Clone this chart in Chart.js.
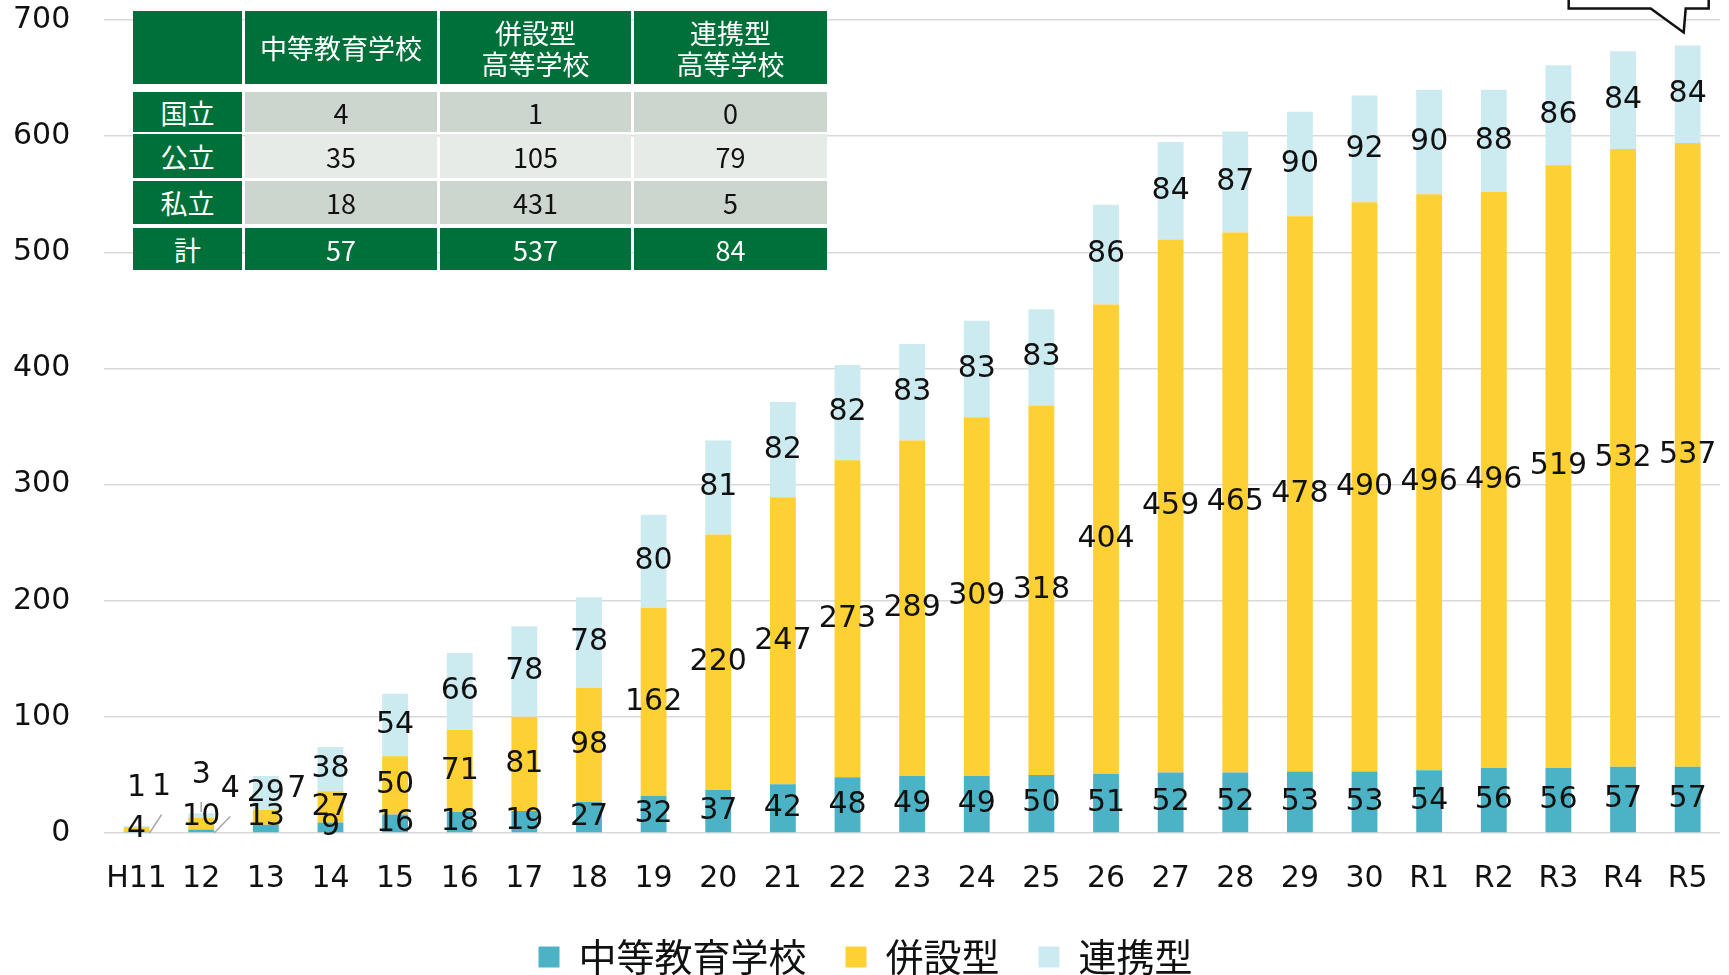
<!DOCTYPE html>
<html lang="ja">
<head>
<meta charset="utf-8">
<script src="https://cdn.jsdelivr.net/npm/chart.js@4.4.0/dist/chart.umd.min.js"></script>
<style>
  html, body { margin: 0; padding: 0; background: #fff; overflow: hidden; }
  #wrap { position: relative; width: 1729px; height: 975px; overflow: hidden; }
  #chart { position: absolute; left: 0; top: 0; }
  .cell { position: absolute; display: flex; align-items: center; justify-content: center; text-align: center;
          font-family: "Noto Sans CJK JP", sans-serif; font-size: 27px; line-height: 31px; box-sizing: border-box; white-space: pre; }
  .head { background: #00703a; color: #fff; }
  .odd { background: #ccd6cf; color: #111; }
  .even { background: #e6ebe7; color: #111; }
</style>
</head>
<body>
<div id="wrap">
  <canvas id="chart" width="1729" height="986" style="width:1729px;height:986px"></canvas>
  <div id="table"></div>
</div>
<script>
// years (平成 -> 令和)
const years = ['H11', '12', '13', '14', '15', '16', '17', '18', '19', '20', '21', '22', '23', '24', '25',
  '26', '27', '28', '29', '30', 'R1', 'R2', 'R3', 'R4', 'R5'];
const chuto = [1, 3, 7, 9, 16, 18, 19, 27, 32, 37, 42, 48, 49, 49, 50, 51, 52, 52, 53, 53, 54, 56, 56, 57, 57];
const heisetsu = [4, 10, 13, 27, 50, 71, 81, 98, 162, 220, 247, 273, 289, 309, 318, 404, 459, 465, 478, 490, 496, 496, 519, 532, 537];
const renkei = [1, 4, 29, 38, 54, 66, 78, 78, 80, 81, 82, 82, 83, 83, 83, 86, 84, 87, 90, 92, 90, 88, 86, 84, 84];
const yTicks = [0, 100, 200, 300, 400, 500, 600, 700];

// summary table (R5)
const tableCols = ['', '中等教育学校', '併設型\n高等学校', '連携型\n高等学校'];
const tableRows = ['国立', '公立', '私立', '計'];
const tableValues = [[4, 1, 0], [35, 105, 79], [18, 431, 5], [57, 537, 84]];

// label nudges for the tiny early bars: 'dataset-index' -> [dx, dy]
const labelShift = { '0-0': [0, -44], '2-0': [25, -39], '0-1': [0, -56], '1-1': [0, -7], '2-1': [29, -26], '0-2': [31, -39] };

const valueLabels = {
  id: 'valueLabels',
  afterDatasetsDraw(chart) {
    const ctx = chart.ctx;
    const yZero = chart.scales.y.getPixelForValue(0);
    ctx.save();
    ctx.font = '30px "DejaVu Sans"';
    ctx.textAlign = 'center';
    ctx.textBaseline = 'middle';
    chart.data.datasets.forEach((ds, di) => {
      chart.getDatasetMeta(di).data.forEach((bar, i) => {
        const key = di + '-' + i;
        const s = labelShift[key] || [0, 0];
        const lx = bar.x + s[0];
        const ly = (bar.y + bar.base) / 2 + s[1];
        // leader lines
        ctx.strokeStyle = '#a6a6a6';
        ctx.lineWidth = 1.5;
        if (key === '2-0' || key === '2-1') {
          ctx.beginPath();
          ctx.moveTo(bar.x + bar.width / 2, yZero);
          ctx.lineTo(lx, ly + 27);
          ctx.stroke();
        } else if (key === '0-1') {
          ctx.beginPath();
          ctx.moveTo(bar.x, ly + 27);
          ctx.lineTo(bar.x, ly + 37);
          ctx.stroke();
        }
        ctx.fillStyle = '#111';
        ctx.fillText(ds.data[i], lx, ly);
      });
    });
    ctx.restore();
  }
};

// speech bubble over the last bar (its text is cut off above the frame)
const callout = {
  id: 'callout',
  afterDraw(chart) {
    const meta = chart.getDatasetMeta(2);
    const bar = meta.data[meta.data.length - 1];
    const cx = bar.x, top = bar.y;
    const ctx = chart.ctx;
    ctx.save();
    ctx.fillStyle = '#fff';
    ctx.strokeStyle = '#111';
    ctx.lineWidth = 2.5;
    ctx.beginPath();
    ctx.moveTo(cx - 119, -20);
    ctx.lineTo(cx - 119, top - 37);
    ctx.lineTo(cx - 37, top - 37);
    ctx.lineTo(cx - 4, top - 13);
    ctx.lineTo(cx - 2, top - 37);
    ctx.lineTo(cx + 21, top - 37);
    ctx.lineTo(cx + 21, -20);
    ctx.closePath();
    ctx.fill();
    ctx.stroke();
    ctx.restore();
  }
};

const tickFont = { family: 'DejaVu Sans', size: 30 };
const clear = 'rgba(0,0,0,0)';

new Chart(document.getElementById('chart'), {
  type: 'bar',
  data: {
    labels: years,
    datasets: [
      { label: '中等教育学校', data: chuto, backgroundColor: '#4bb3c5' },
      { label: '併設型', data: heisetsu, backgroundColor: '#fdd133' },
      { label: '連携型', data: renkei, backgroundColor: '#ccebf0' }
    ]
  },
  options: {
    responsive: false,
    animation: false,
    layout: { padding: { left: 11, right: 9, top: 2, bottom: 0 } },
    datasets: { bar: { categoryPercentage: 1, barPercentage: 0.4 } },
    scales: {
      x: {
        stacked: true,
        grid: { display: true, drawOnChartArea: false, tickLength: 26, tickColor: clear },
        border: { display: false },
        ticks: { color: '#111', font: tickFont, padding: 2, maxRotation: 0, autoSkip: false }
      },
      y: {
        stacked: true,
        min: 0,
        max: 700,
        afterBuildTicks: (axis) => { axis.ticks = yTicks.map(v => ({ value: v })); },
        grid: { color: '#d9d9d9', lineWidth: 1.5, tickLength: 32, tickColor: clear },
        border: { display: false },
        ticks: { color: '#111', font: tickFont, padding: 2 }
      }
    },
    plugins: {
      legend: {
        position: 'bottom',
        labels: { boxWidth: 21, boxHeight: 21, padding: 39, color: '#111', font: { family: 'Noto Sans CJK JP', size: 38 } }
      },
      tooltip: { enabled: false }
    }
  },
  plugins: [valueLabels, callout]
});

// overlay table
const colX = [133, 245, 440, 634];
const colW = [109, 192, 191, 193];
const rowY = [11, 92, 134, 181, 228];
const rowH = [73, 40, 44, 43, 42];
const rowCls = ['head', 'odd', 'even', 'odd', 'head'];
const tbl = document.getElementById('table');
function addCell(text, r, c, cls) {
  const d = document.createElement('div');
  d.className = 'cell ' + cls;
  d.style.left = colX[c] + 'px';
  d.style.top = rowY[r] + 'px';
  d.style.width = colW[c] + 'px';
  d.style.height = rowH[r] + 'px';
  d.textContent = text;
  tbl.appendChild(d);
}
tableCols.forEach((t, c) => addCell(t, 0, c, 'head'));
tableRows.forEach((t, r) => {
  addCell(t, r + 1, 0, 'head');
  tableValues[r].forEach((v, c) => addCell(String(v), r + 1, c + 1, rowCls[r + 1]));
});
</script>
</body>
</html>
